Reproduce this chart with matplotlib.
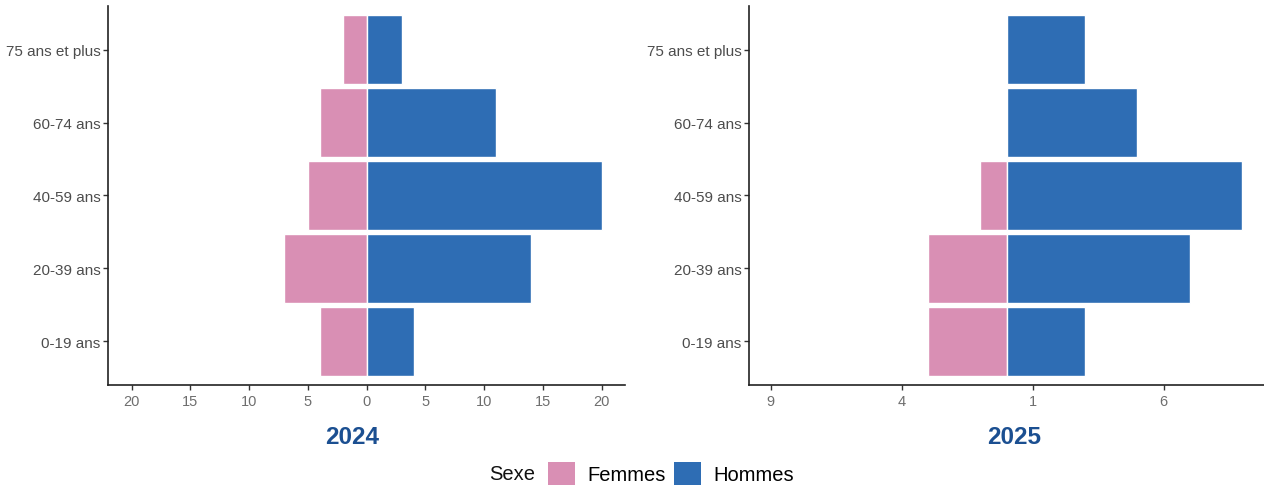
import numpy as np
import matplotlib

matplotlib.use('Agg')
import matplotlib.pyplot as plt
from matplotlib.patches import Patch

plt.rcParams['font.family'] = ['Liberation Sans', 'DejaVu Sans']

# data
ages = ['0-19 ans', '20-39 ans', '40-59 ans', '60-74 ans', '75 ans et plus']
femmes_2024 = [4, 7, 5, 4, 2]
hommes_2024 = [4, 14, 20, 11, 3]
femmes_2025 = [3, 3, 1, 0, 0]
hommes_2025 = [3, 7, 9, 5, 3]

ticks_2024 = [-20, -15, -10, -5, 0, 5, 10, 15, 20]
ticks_2025 = [-9, -4, 1, 6]

col_f = '#D98FB4'
col_h = '#2E6DB4'
col_title = '#1B4F91'

fig = plt.figure(figsize=(12.64, 4.89), dpi=100)
W, H = 1264, 489


def panel(x0, x1, fem, hom, ticks, lim, title, tx):
  ax = fig.add_axes([x0 / W, 1 - 386 / H, (x1 - x0) / W, 379 / H])
  y = np.arange(len(ages))
  ax.barh(y, -np.array(fem), height=0.95, color=col_f, edgecolor='white', linewidth=1)
  ax.barh(y, hom, height=0.95, color=col_h, edgecolor='white', linewidth=1)
  ax.set_ylim(-0.6, len(ages) - 0.4)
  ax.set_xlim(-lim, lim)
  ax.set_yticks(y)
  ax.set_yticklabels(ages)
  ax.set_xticks(ticks)
  ax.set_xticklabels([str(abs(t)) for t in ticks])
  for s in ['top', 'right']:
    ax.spines[s].set_visible(False)
  for s in ['left', 'bottom']:
    ax.spines[s].set_linewidth(1.2)
    ax.spines[s].set_color('#222222')
  ax.tick_params(axis='both', length=3.5, width=1, color='#333333')
  ax.tick_params(axis='y', labelcolor='#4D4D4D', labelsize=11, pad=2)
  ax.tick_params(axis='x', labelcolor='#6E6E6E', labelsize=10.5, pad=3)
  fig.text(tx / W, 1 - 438 / H, title, ha='center', va='center', fontsize=17.5,
           fontweight='bold', color=col_title)
  return ax


panel(108, 625, femmes_2024, hommes_2024, ticks_2024, 22, '2024', 352)
panel(749, 1264, femmes_2025, hommes_2025, ticks_2025, 9.83, '2025', 1014)

# legend
fig.text(489 / W, 1 - 474.5 / H, 'Sexe', ha='left', va='center', fontsize=14.5, color='#111111')
handles = [Patch(facecolor=col_f, label='Femmes'), Patch(facecolor=col_h, label='Hommes')]
fig.legend(handles=handles, loc='center left', bbox_to_anchor=(538 / W, 1 - 474.5 / H),
           ncol=2, frameon=False, fontsize=14.5, borderpad=0,
           handlelength=1.34, handleheight=1.34, columnspacing=0.42, handletextpad=0.62)

plt.savefig('out.png', dpi=100)
plt.close()
